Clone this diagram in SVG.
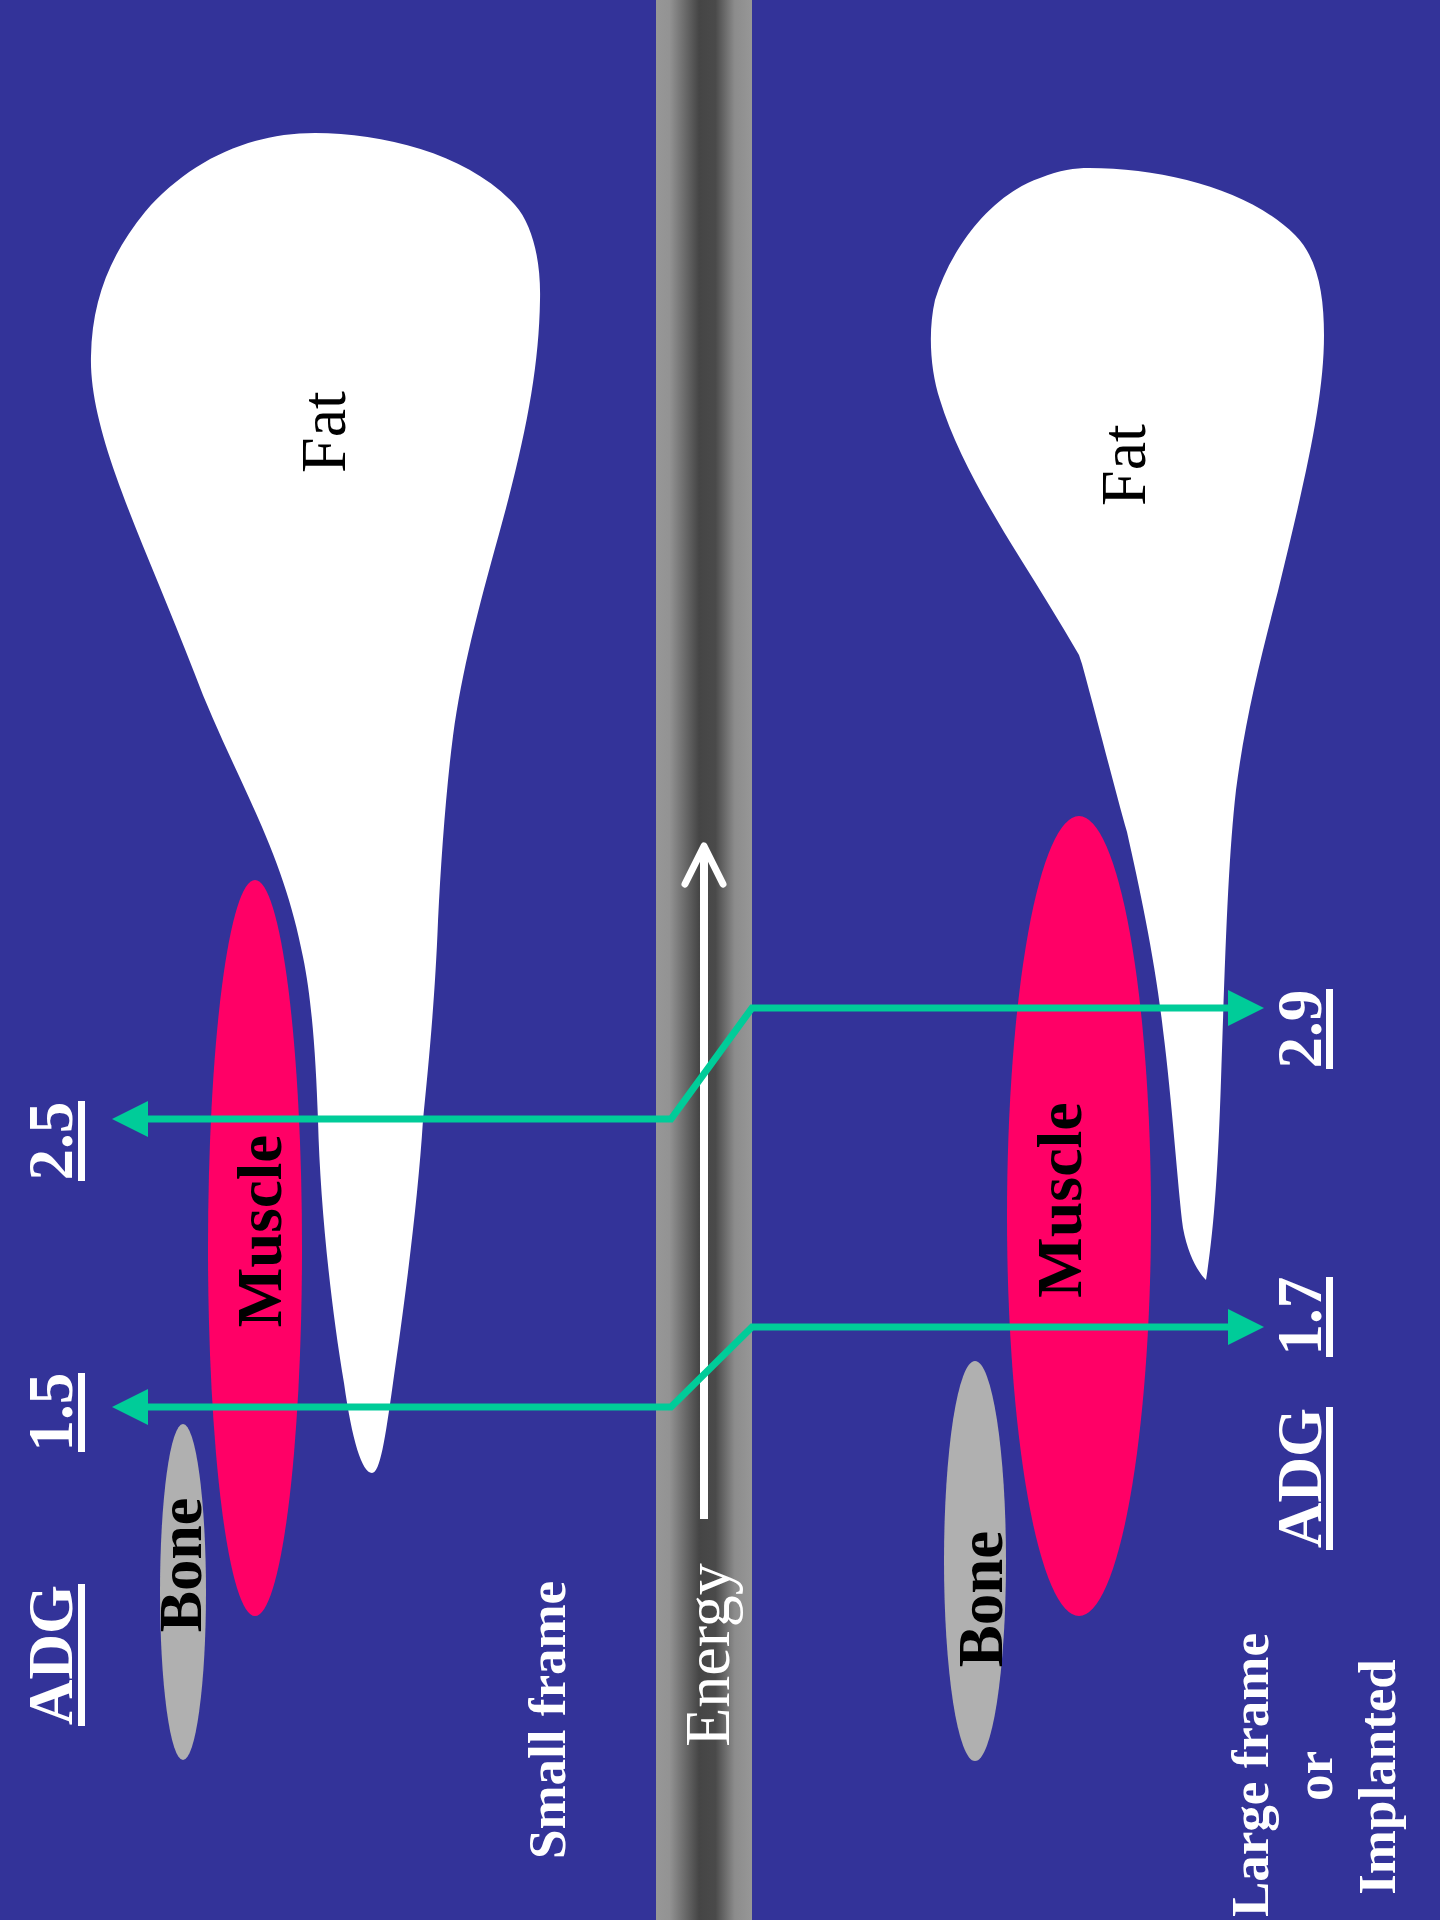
<svg xmlns="http://www.w3.org/2000/svg" width="1440" height="1920" viewBox="0 0 1440 1920">
<defs>
<linearGradient id="barGrad" x1="656" y1="0" x2="752" y2="0" gradientUnits="userSpaceOnUse">
<stop offset="0" stop-color="#979797"/>
<stop offset="0.14" stop-color="#939393"/>
<stop offset="0.45" stop-color="#454545"/>
<stop offset="0.62" stop-color="#4a4a4a"/>
<stop offset="0.82" stop-color="#8c8c8c"/>
<stop offset="1" stop-color="#979797"/>
</linearGradient>
<marker id="gHead" markerUnits="userSpaceOnUse" markerWidth="40" markerHeight="40" viewBox="0 -20 40 40" refX="0" refY="0" orient="auto-start-reverse">
<path d="M0,-18 L36,0 L0,18 Z" fill="#00cc99"/>
</marker>
<style>
.lbl{font-family:"Liberation Serif","Times New Roman",serif;text-anchor:middle}
.b{font-weight:bold}
.w{fill:#ffffff}
.k{fill:#000000}
.fat{fill:#ffffff}
.muscle{fill:#ff0066}
.bone{fill:#b0b0b0}
.ul{fill:#ffffff}
.conn{fill:none;stroke:#00cc99;stroke-width:7;stroke-linejoin:miter;marker-start:url(#gHead);marker-end:url(#gHead)}
</style>
</defs>
<rect x="0" y="0" width="1440" height="1920" fill="#333399"/>
<g id="energy-bar">
<rect x="656" y="0" width="96" height="1920" fill="url(#barGrad)"/>
<line x1="704" y1="1519" x2="704" y2="847" stroke="#ffffff" stroke-width="8"/>
<polyline points="685,884 704,846 723,884" fill="none" stroke="#ffffff" stroke-width="7" stroke-linecap="round" stroke-linejoin="round"/>
<text class="lbl w" font-size="64" transform="translate(729,1655) rotate(-90)">Energy</text>
</g>
<g id="fat-left">
<path class="fat" d="M315,133 C385,133 470,155 515,205 C533,225 541,262 540,300 C539,370 525,440 499,534 C478,610 462,670 453,736 C446,790 441,860 438,921 C435,1000 428,1070 423,1120 C418,1200 405,1300 393,1383 C385,1440 380,1473 372,1473 C362,1473 352,1440 344,1383 C330,1300 320,1200 318,1120 C316,1060 312,1000 303,957 C292,900 275,855 250,800 C230,756 210,715 194,672 C165,597 135,530 116,476 C100,430 90,390 91,356 C92,300 110,255 145,212 C190,160 250,133 315,133 Z"/>
<text class="lbl k" font-size="64" transform="translate(345,432) rotate(-90)">Fat</text>
</g>
<g id="muscle-left">
<ellipse class="muscle" cx="255" cy="1248" rx="47" ry="368"/>
<text class="lbl b k" font-size="63" transform="translate(281,1231) rotate(-90)">Muscle</text>
</g>
<g id="bone-left">
<ellipse class="bone" cx="183" cy="1592" rx="23" ry="168"/>
<text class="lbl b k" font-size="62" transform="translate(201,1565) rotate(-90)">Bone</text>
</g>
<g id="fat-right">
<path class="fat" d="M1089,168 C1165,168 1250,190 1295,235 C1318,258 1324,295 1324,335 C1324,400 1305,480 1278,591 C1260,660 1245,720 1236,790 C1228,860 1225,960 1221,1080 C1218,1170 1214,1230 1206,1280 C1198,1272 1188,1255 1183,1228 C1178,1190 1172,1100 1163,1030 C1155,960 1140,890 1127,832 C1115,790 1100,730 1082,664 L1079,655 C1060,622 1040,590 1020,558 C990,510 955,450 940,400 C930,370 928,330 935,300 C950,250 990,195 1040,178 C1060,170 1075,168 1089,168 Z"/>
<text class="lbl k" font-size="64" transform="translate(1145,465) rotate(-90)">Fat</text>
</g>
<g id="muscle-right">
<ellipse class="muscle" cx="1079" cy="1216" rx="72" ry="400"/>
<text class="lbl b k" font-size="64" transform="translate(1081,1200) rotate(-90)">Muscle</text>
</g>
<g id="bone-right">
<ellipse class="bone" cx="975" cy="1561" rx="31" ry="200"/>
<text class="lbl b k" font-size="63" transform="translate(1002,1599) rotate(-90)">Bone</text>
</g>
<g id="connectors">
<polyline class="conn" points="148,1119 671,1119 752,1008 1228,1008"/>
<polyline class="conn" points="148,1407 671,1407 752,1327 1228,1327"/>
</g>
<g id="label-small-frame">
<text class="lbl b w" font-size="53" transform="translate(565,1720) rotate(-90)">Small frame</text>
</g>
<g id="label-large-frame">
<text class="lbl b w" font-size="53" transform="translate(1268,1775) rotate(-90)">Large frame</text>
<text class="lbl b w" font-size="53" transform="translate(1332,1776) rotate(-90)">or</text>
<text class="lbl b w" font-size="53" transform="translate(1395,1777) rotate(-90)">Implanted</text>
</g>
<g id="adg-left">
<text class="lbl b w" font-size="63" transform="translate(72,1655) rotate(-90)">ADG</text>
<rect class="ul" x="78" y="1584" width="7" height="142"/>
<text class="lbl b w" font-size="63" transform="translate(72,1412) rotate(-90)">1.5</text>
<rect class="ul" x="78" y="1373" width="7" height="79"/>
<text class="lbl b w" font-size="63" transform="translate(72,1141) rotate(-90)">2.5</text>
<rect class="ul" x="78" y="1101" width="7" height="80"/>
</g>
<g id="adg-right">
<text class="lbl b w" font-size="63" transform="translate(1321,1478) rotate(-90)">ADG</text>
<rect class="ul" x="1326" y="1407" width="7" height="143"/>
<text class="lbl b w" font-size="63" transform="translate(1321,1316) rotate(-90)">1.7</text>
<rect class="ul" x="1326" y="1277" width="7" height="80"/>
<text class="lbl b w" font-size="63" transform="translate(1321,1029) rotate(-90)">2.9</text>
<rect class="ul" x="1326" y="989" width="7" height="80"/>
</g>
</svg>
